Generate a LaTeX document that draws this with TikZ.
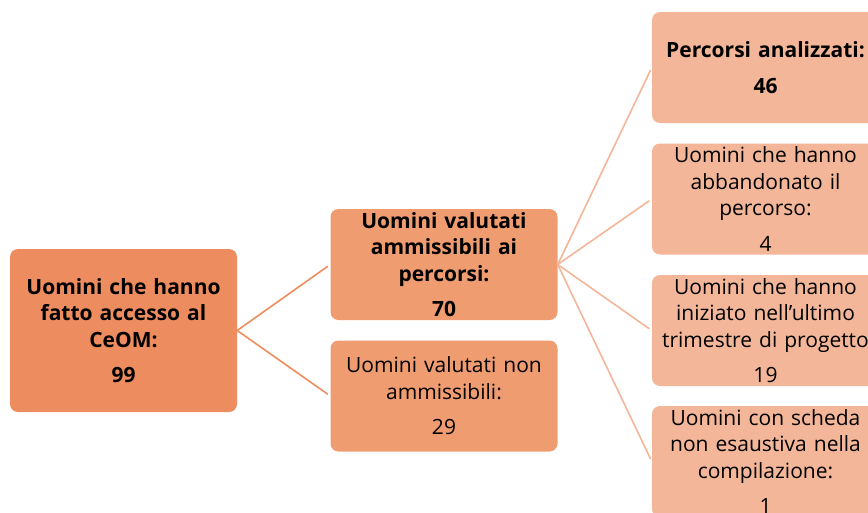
\documentclass[tikz,border=0pt]{standalone}
\usepackage{fontspec}
\setmainfont{Open Sans}
\usetikzlibrary{positioning}
\definecolor{rootfill}{RGB}{237,140,94}
\definecolor{midfill}{RGB}{240,156,113}
\definecolor{leaffill}{RGB}{243,182,152}
\tikzset{
  box/.style={rectangle, rounded corners=8pt, draw=none, align=center,
    text width=220pt, minimum width=227pt, minimum height=111pt, inner sep=0pt,
    font=\fontsize{21pt}{26.5pt}\selectfont},
  rootbox/.style={box, fill=rootfill, minimum height=163pt},
  midbox/.style={box, fill=midfill},
  leafbox/.style={box, fill=leaffill},
  rootlink/.style={draw=rootfill, line width=1.6pt},
  leaflink/.style={draw=leaffill, line width=1.6pt}
}

\begin{document}
\begin{tikzpicture}[x=1pt, y=-1pt]
    \useasboundingbox (0,0) rectangle (868,512);
    \clip (0,0) rectangle (868,512);
    \node[rootbox] (ceom) at (123.5,330.5)
      {\bfseries Uomini che hanno\\fatto accesso al\\CeOM:\\[9pt]99};
    \node[midbox] (amm) at (444,264.5)
      {\bfseries Uomini valutati\\ammissibili ai\\percorsi:\\[9pt]70};
    \node[midbox] (nonamm) at (444,396)
      {Uomini valutati non\\ammissibili:\\[9pt]29};
    \node[leafbox] (anal) at (765.5,67.5)
      {\bfseries Percorsi analizzati:\\[9pt]46};
    \node[leafbox] (abb) at (765.5,199)
      {Uomini che hanno\\abbandonato il\\percorso:\\[9pt]4};
    \node[leafbox] (trim) at (765.5,330.5)
      {Uomini che hanno\\iniziato nell’ultimo\\trimestre di progetto\\[9pt]19};
    \node[leafbox] (scheda) at (765.5,461.5)
      {Uomini con scheda\\non esaustiva nella\\compilazione:\\[9pt]1};
    \path[rootlink]
      (ceom.east) edge[shorten >=3pt] (amm.west)
      (ceom.east) edge[shorten >=3pt] (nonamm.west);
    \path[leaflink]
      (amm.east) edge[shorten >=3pt] (anal.west)
      (amm.east) edge[shorten >=3pt] (abb.west)
      (amm.east) edge[shorten >=3pt] (trim.west)
      (amm.east) edge[shorten >=3pt] (scheda.west);
  \end{tikzpicture}
\end{document}
